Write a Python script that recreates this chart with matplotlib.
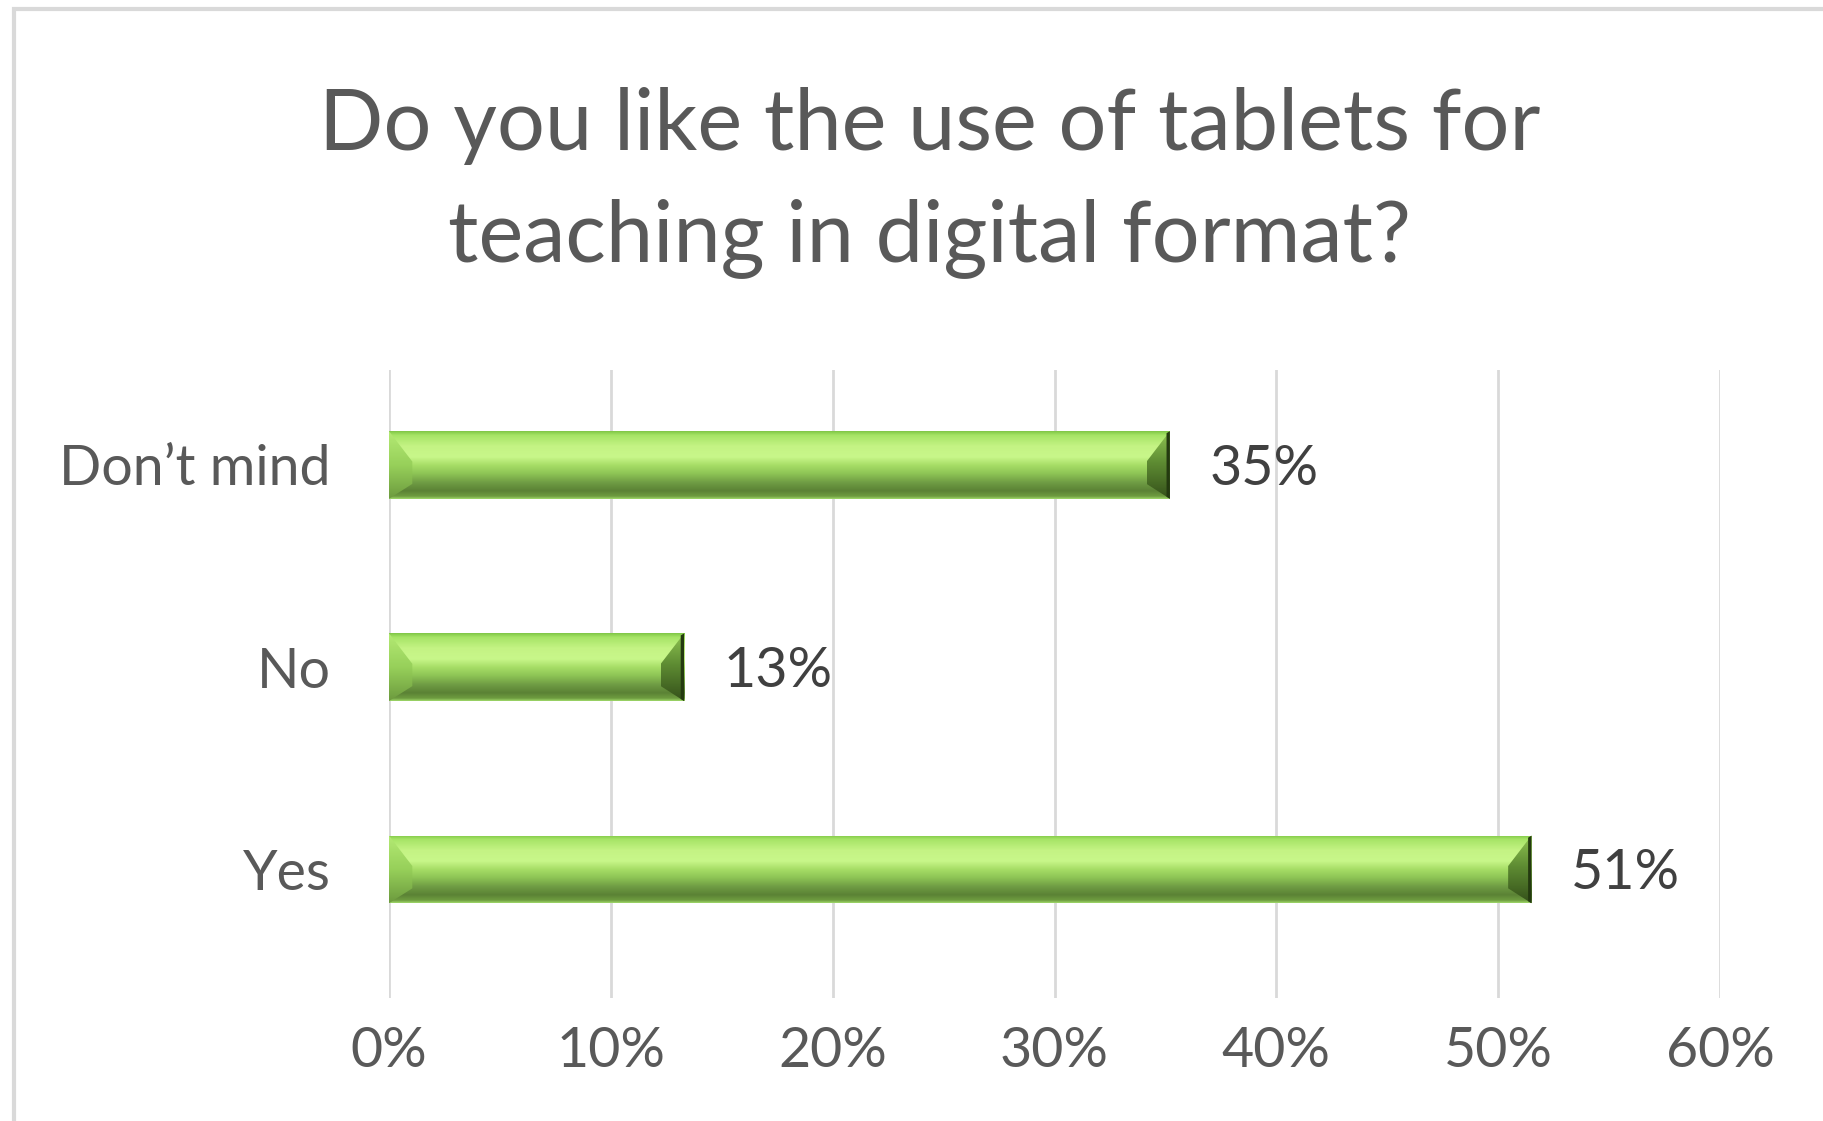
import numpy as np
import matplotlib.pyplot as plt
from matplotlib.colors import LinearSegmentedColormap
from matplotlib.patches import Polygon, Rectangle

# survey answers, bottom to top as drawn
categories = ['Yes', 'No', 'Don\u2019t mind']
shares = [51.5, 13.3, 35.2]
share_labels = ['51%', '13%', '35%']
x_ticks = [0, 10, 20, 30, 40, 50, 60]
x_tick_labels = ['0%', '10%', '20%', '30%', '40%', '50%', '60%']
title = 'Do you like the use of tablets for\nteaching in digital format?'

plt.rcParams['font.family'] = ['Lato', 'DejaVu Sans']

fig = plt.figure(figsize=(18.23, 11.21), dpi=100)
ax = fig.add_axes([0.2134, 0.1097, 0.7301, 0.5603])

# outer chart frame (only left and top edges visible in the crop)
fig.patches.append(Rectangle((0.0077, -0.05), 1.2, 1.042, transform=fig.transFigure,
                             fill=False, edgecolor='#d9d9d9', linewidth=3))

bar_h = 0.334
ypos = np.arange(len(categories))
bars = ax.barh(ypos, shares, height=bar_h, color='#9fd860', zorder=2)

# vertical shading of the bevelled bars (top -> bottom)
shade = LinearSegmentedColormap.from_list('shade', [
    (0.00, '#7fc646'), (0.06, '#a6e466'), (0.22, '#c4f384'), (0.38, '#c8f78a'),
    (0.50, '#a7de67'), (0.62, '#8fc656'), (0.76, '#6f9c44'), (0.88, '#5b8235'),
    (0.96, '#6e9c40'), (1.00, '#9fd86a')])
right_shade = LinearSegmentedColormap.from_list('rshade', [
    (0.0, '#8fc452'), (0.45, '#5f8d33'), (1.0, '#34501a')])
left_shade = LinearSegmentedColormap.from_list('lshade', [
    (0.0, '#b4ea74'), (0.5, '#97d05a'), (1.0, '#6c9a3e')])
grad = np.linspace(0, 1, 256).reshape(-1, 1)


def shaded_poly(pts, cmap, y0, y1, x0, x1):
    poly = Polygon(pts, closed=True, facecolor='none', edgecolor='none', zorder=4)
    ax.add_patch(poly)
    im = ax.imshow(grad, cmap=cmap, aspect='auto', extent=(x0, x1, y0, y1),
                   origin='upper', zorder=4)
    im.set_clip_path(poly)


bw = 1.05  # end bevel width in data units
for rect, v, y, lab in zip(bars, shares, ypos, share_labels):
    y0, y1 = y - bar_h / 2, y + bar_h / 2
    im = ax.imshow(grad, cmap=shade, aspect='auto', extent=(0, v, y0, y1),
                   origin='upper', zorder=3)
    im.set_clip_path(rect)
    t, b = bar_h * 0.45, bar_h * 0.22
    # right end bevel (dark)
    shaded_poly([(v - bw, y1 - t), (v, y1), (v, y0), (v - bw, y0 + b)],
                right_shade, y0, y1, v - bw, v)
    ax.add_patch(Polygon([(v - 0.15, y1 - 0.01), (v, y1), (v, y0), (v - 0.15, y0 + 0.01)],
                         closed=True, facecolor='#243a10', edgecolor='none', zorder=5))
    # left end bevel (lighter)
    shaded_poly([(0, y1), (bw, y1 - t), (bw, y0 + b), (0, y0)],
                left_shade, y0, y1, 0, bw)
    ax.text(v + 1.8, y - 0.02, lab, va='center', ha='left',
            fontsize=40, color='#404040', zorder=5)

ax.set_xlim(0, 60)
ax.set_ylim(-0.636, 2.47)
ax.set_xticks(x_ticks)
ax.set_xticklabels(x_tick_labels)
ax.set_yticks(ypos)
ax.set_yticklabels(categories)
ax.tick_params(axis='x', length=0, pad=20, labelsize=40, labelcolor='#595959')
ax.tick_params(axis='y', length=0, pad=42, labelsize=40, labelcolor='#595959')
ax.grid(axis='x', color='#d9d9d9', linewidth=2, zorder=0)
ax.set_axisbelow(True)
for s in ax.spines.values():
    s.set_visible(False)

fig.text(0.51, 0.837, title, ha='center', va='center', fontsize=61,
         color='#595959', linespacing=1.52)

fig.savefig('out.png', dpi=100)
